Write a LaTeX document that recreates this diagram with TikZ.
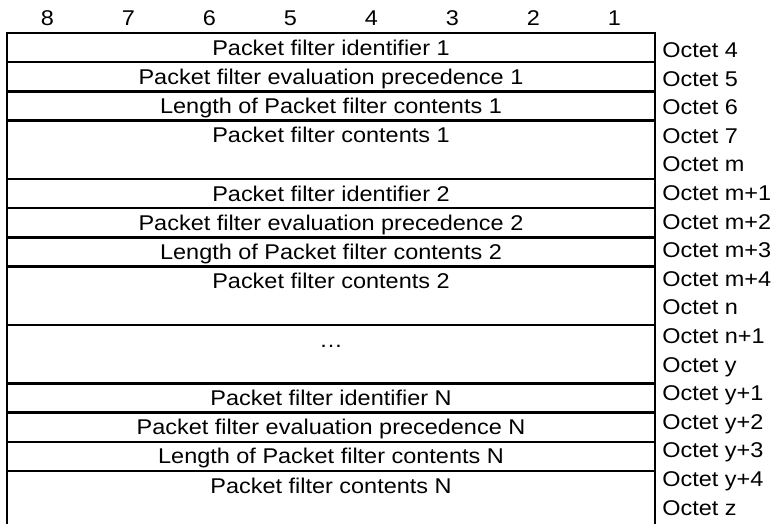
\documentclass[tikz,border=0pt]{standalone}
\usepackage{fontspec}
\setmainfont{Liberation Sans}[FakeStretch=1.1]
\tikzset{
  field/.style={font=\fontsize{16}{19}\selectfont,inner sep=0pt,anchor=base},
  octet/.style={field,anchor=base west},
  bitno/.style={field},
  rule/.style={line width=1.8pt},
}

\begin{document}
\begin{tikzpicture}[x=0.75pt,y=0.75pt]
 \useasboundingbox (0,0) rectangle (776,-524);
 % bit numbers over the columns
 \foreach \b in {1,...,8}
   \node[bitno] (bit\b) at ({7+81*(8-\b)+40.5},-25.5) {\b};
 % frame, open at the foot
 \draw[rule] (7,-530) -- (7,-33) -- (655,-33) -- (655,-530);
 \foreach \r in {1,2,3,5,6,7,8,10,12,13,14,15}
   \draw[rule] (7,{-33-29.2*\r}) -- (655,{-33-29.2*\r});
 % field texts, one unit row is 29.2
 \foreach \n/\r/\t in {1/0/Packet filter identifier 1,
     2/1/Packet filter evaluation precedence 1,
     3/2/Length of Packet filter contents 1,
     4/3/Packet filter contents 1,
     5/5/Packet filter identifier 2,
     6/6/Packet filter evaluation precedence 2,
     7/7/Length of Packet filter contents 2,
     8/8/Packet filter contents 2,
     9/10/…,
     10/12/Packet filter identifier N,
     11/13/Packet filter evaluation precedence N,
     12/14/Length of Packet filter contents N,
     13/15/Packet filter contents N}
   \node[field] (f\n) at (331,{-40.5-29.2*(\r+.5)}) {\t};
 % octet numbers
 \foreach \t [count=\i] in {4,5,6,7,m,m+1,m+2,m+3,m+4,n,n+1,y,y+1,y+2,y+3,y+4,z}
   \node[octet] (o\i) at (662,{-57.5-28.6*(\i-1)}) {Octet \t};
\end{tikzpicture}
\end{document}
